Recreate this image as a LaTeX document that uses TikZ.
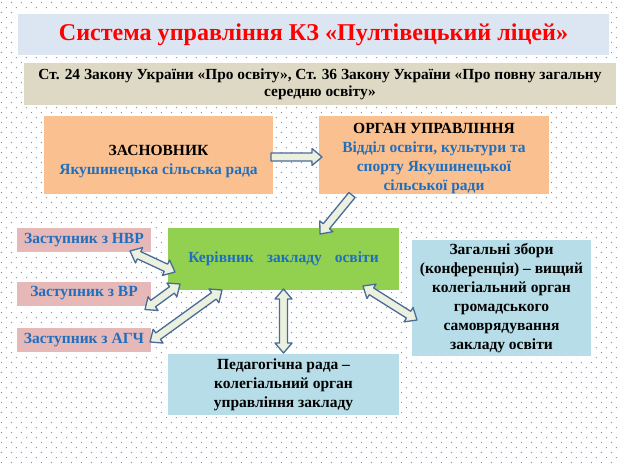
\documentclass[tikz,border=0pt]{standalone}
\usepackage{fontspec}
\setmainfont{Liberation Serif}
\usepackage{tikz}
\usetikzlibrary{shapes,arrows.meta,positioning,calc,patterns}
\usepackage{xcolor}

\definecolor{titlebg}{HTML}{DCE6F2}
\definecolor{lawbg}{HTML}{DDD9C4}
\definecolor{peach}{HTML}{FAC090}
\definecolor{headgreen}{HTML}{92D050}
\definecolor{deputybg}{HTML}{E6B9B8}
\definecolor{councilbg}{HTML}{B7DEE8}
\definecolor{textblue}{HTML}{1F6FBF}
\definecolor{arrfill}{HTML}{EBF1DE}
\definecolor{arrline}{HTML}{4A6B98}
\definecolor{dotblue}{HTML}{6F95CF}

\pgfdeclarepatternformonly{bgdots}{\pgfqpoint{0pt}{0pt}}{\pgfqpoint{10.4pt}{10.4pt}}{\pgfqpoint{10.4pt}{10.4pt}}{%
  \pgfpathcircle{\pgfqpoint{2.6pt}{2.6pt}}{0.75pt}%
  \pgfpathcircle{\pgfqpoint{7.8pt}{7.8pt}}{0.75pt}%
  \pgfusepath{fill}}

\begin{document}
\begin{tikzpicture}[x=1pt, y=-1pt,
    box/.style={rectangle, draw=white, line width=2pt, outer sep=0pt, inner sep=2pt, align=center, font=\fontsize{15.5}{19}\selectfont\bfseries},
    deputy/.style={box, fill=deputybg, text=textblue, minimum width=136pt, minimum height=26pt},
    council/.style={box, fill=councilbg, minimum width=233pt},
    oneway/.style={draw=arrline, fill=arrfill, line width=1.3pt, line join=round, to path={
        ($(\tikztostart)!4pt!90:(\tikztotarget)$)
        -- ($(\tikztotarget)!10pt!(\tikztostart)!4pt!90:(\tikztotarget)$)
        -- ($(\tikztotarget)!10pt!(\tikztostart)!8.5pt!90:(\tikztotarget)$)
        -- (\tikztotarget)
        -- ($(\tikztotarget)!10pt!(\tikztostart)!8.5pt!-90:(\tikztotarget)$)
        -- ($(\tikztotarget)!10pt!(\tikztostart)!4pt!-90:(\tikztotarget)$)
        -- ($(\tikztostart)!4pt!-90:(\tikztotarget)$) -- cycle}},
    twoway/.style={draw=arrline, fill=arrfill, line width=1.3pt, line join=round, to path={
        (\tikztostart)
        -- ($(\tikztostart)!10pt!(\tikztotarget)!8.5pt!90:(\tikztotarget)$)
        -- ($(\tikztostart)!10pt!(\tikztotarget)!4pt!90:(\tikztotarget)$)
        -- ($(\tikztotarget)!10pt!(\tikztostart)!4pt!90:(\tikztotarget)$)
        -- ($(\tikztotarget)!10pt!(\tikztostart)!8.5pt!90:(\tikztotarget)$)
        -- (\tikztotarget)
        -- ($(\tikztotarget)!10pt!(\tikztostart)!8.5pt!-90:(\tikztotarget)$)
        -- ($(\tikztotarget)!10pt!(\tikztostart)!4pt!-90:(\tikztotarget)$)
        -- ($(\tikztostart)!10pt!(\tikztotarget)!4pt!-90:(\tikztotarget)$)
        -- ($(\tikztostart)!10pt!(\tikztotarget)!8.5pt!-90:(\tikztotarget)$)
        -- cycle}}
]
    % Background
    \fill[white] (0,0) rectangle (618,464);
    \fill[pattern=bgdots, pattern color=dotblue] (0,0) rectangle (618,464);
    \useasboundingbox (0,0) rectangle (618,464);

    % Title and law
    \node[box, fill=titlebg, text=red, minimum width=593pt, minimum height=43pt, font=\fontsize{24.1}{28}\selectfont\bfseries] (title) at (313.5,34.5) {Система управління КЗ «Пултівецький ліцей»};
    \node[box, fill=lawbg, minimum width=594pt, minimum height=44pt, font=\fontsize{15.4}{17}\selectfont\bfseries] (law) at (320,84) {Ст. 24 Закону України «Про освіту», Ст. 36 Закону України «Про повну загальну\\ середню освіту»};

    % Founder and authority
    \node[box, fill=peach, minimum width=231pt, minimum height=80pt] (founder) at (158.5,155) {\rule{0pt}{24pt}ЗАСНОВНИК\\ \textcolor{textblue}{Якушинецька сільська рада}};
    \node[box, fill=peach, inner sep=0pt, minimum width=232pt, minimum height=80pt] (authority) at (434,155) {\rule{0pt}{18pt}ОРГАН УПРАВЛІННЯ\\ \textcolor{textblue}{Відділ освіти, культури та}\\ \textcolor{textblue}{спорту Якушинецької}\\ \textcolor{textblue}{сільської ради}};

    % Head
    \node[box, fill=headgreen, text=textblue, minimum width=233pt, minimum height=64pt] (head) at (283.5,259) {Керівник\hspace{13pt}закладу\hspace{13pt}освіти};

    % Deputies
    \node[deputy] (nvr) at (84,240) {Заступник з НВР};
    \node[deputy] (vr) at (84,293.5) {Заступник з ВР};
    \node[deputy] (agch) at (84,340) {Заступник з АГЧ};

    % Councils
    \node[council, minimum width=181pt, minimum height=118pt] (assembly) at (501.5,298) {Загальні збори\\ (конференція) – вищий\\ колегіальний орган\\ громадського\\ самоврядування\\ закладу освіти};
    \node[council, minimum height=63pt] (pedrada) at (283.5,384.5) {Педагогічна рада –\\ колегіальний орган\\ управління закладу};

    % Arrow ends
    \coordinate (founder-out) at ($(founder.east)+(-3,2)$);
    \coordinate (authority-in) at ($(authority.west)+(4,2)$);
    \coordinate (authority-out) at ($(authority.south west)+(34,0)$);
    \coordinate (head-in) at ($(head.north west)+(153,7)$);
    \coordinate (nvr-end) at ($(nvr.south east)+(-22,-2)$);
    \coordinate (head-nvr) at ($(head.west)+(8,13)$);
    \coordinate (vr-end) at ($(vr.south east)+(-7,3)$);
    \coordinate (head-vr) at ($(head.south west)+(13,-7)$);
    \coordinate (agch-end) at ($(agch.east)+(-2,2)$);
    \coordinate (head-agch) at ($(head.south west)+(55,-1)$);
    \coordinate (head-ped) at ($(head.south)+(0,-2)$);
    \coordinate (head-asm) at ($(head.south east)+(-37,-5)$);
    \coordinate (asm-end) at ($(assembly.west)+(6,22)$);

    \draw[oneway] (founder-out) to (authority-in);
    \draw[oneway] (authority-out) to (head-in);
    \draw[twoway] (nvr-end) to (head-nvr);
    \draw[twoway] (vr-end) to (head-vr);
    \draw[twoway] (agch-end) to (head-agch);
    \draw[twoway] (head-ped) to (pedrada.north);
    \draw[twoway] (head-asm) to (asm-end);
\end{tikzpicture}
\end{document}
